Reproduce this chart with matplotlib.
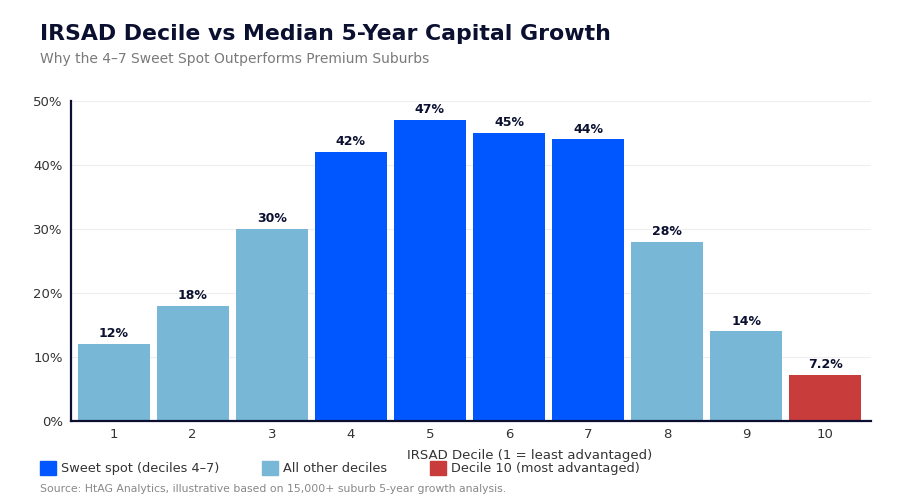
import matplotlib.pyplot as plt
from matplotlib.patches import Patch
from matplotlib.ticker import FuncFormatter

deciles = [1, 2, 3, 4, 5, 6, 7, 8, 9, 10]
growth = [12, 18, 30, 42, 47, 45, 44, 28, 14, 7.2]
labels = ['12%', '18%', '30%', '42%', '47%', '45%', '44%', '28%', '14%', '7.2%']
groups = ['other', 'other', 'other', 'sweet', 'sweet', 'sweet', 'sweet', 'other', 'other', 'top']

navy = '#0b1030'
colours = {'sweet': '#0057ff', 'other': '#78b7d6', 'top': '#c83c3c'}

fig = plt.figure(figsize=(9, 5), dpi=100)
ax = fig.add_axes([71 / 900, 79 / 500, 800 / 900, 320 / 500])

ax.bar(deciles, growth, width=0.91, color=[colours[g] for g in groups], zorder=2)
for x, y, t in zip(deciles, growth, labels):
    ax.text(x, y + 0.6, t, ha='center', va='bottom', fontsize=9,
            fontweight='bold', color=navy)

ax.set_xlim(0.46, 10.58)
ax.set_ylim(0, 50)
ax.set_xticks(deciles)
ax.set_yticks([0, 10, 20, 30, 40, 50])
ax.yaxis.set_major_formatter(FuncFormatter(lambda v, p: f'{v:.0f}%'))
ax.tick_params(axis='y', length=0, labelsize=9.5, colors='#333333', pad=6)
ax.tick_params(axis='x', length=0, labelsize=9.5, colors='#333333', pad=5)
ax.grid(axis='y', color='#eeeeee', linewidth=0.8, zorder=0)
for s in ['top', 'right']:
    ax.spines[s].set_visible(False)
for s in ['left', 'bottom']:
    ax.spines[s].set_color(navy)
    ax.spines[s].set_linewidth(1.6)

fig.text(530 / 900, 1 - 456 / 500, 'IRSAD Decile (1 = least advantaged)',
         fontsize=9.5, color='#333333', ha='center', va='center')

fig.text(40 / 900, 1 - 34 / 500, 'IRSAD Decile vs Median 5-Year Capital Growth',
         fontsize=15.8, fontweight='bold', color=navy, va='center')
fig.text(40 / 900, 1 - 59 / 500, 'Why the 4\u20137 Sweet Spot Outperforms Premium Suburbs',
         fontsize=10, color='#7a7a7a', va='center')

handles = [Patch(color=colours['sweet'], label='Sweet spot (deciles 4\u20137)'),
           Patch(color=colours['other'], label='All other deciles'),
           Patch(color=colours['top'], label='Decile 10 (most advantaged)')]
fig.legend(handles=handles, loc='center left', bbox_to_anchor=(28 / 900, 1 - 468 / 500),
           ncol=3, frameon=False, fontsize=9.3, handlelength=1.25, handleheight=1.25,
           handletextpad=0.4, columnspacing=3.3, labelcolor='#333333')

fig.text(40 / 900, 1 - 489 / 500,
         'Source: HtAG Analytics, illustrative based on 15,000+ suburb 5-year growth analysis.',
         fontsize=7.8, color='#888888', va='center')

fig.savefig('out.png', dpi=100)
